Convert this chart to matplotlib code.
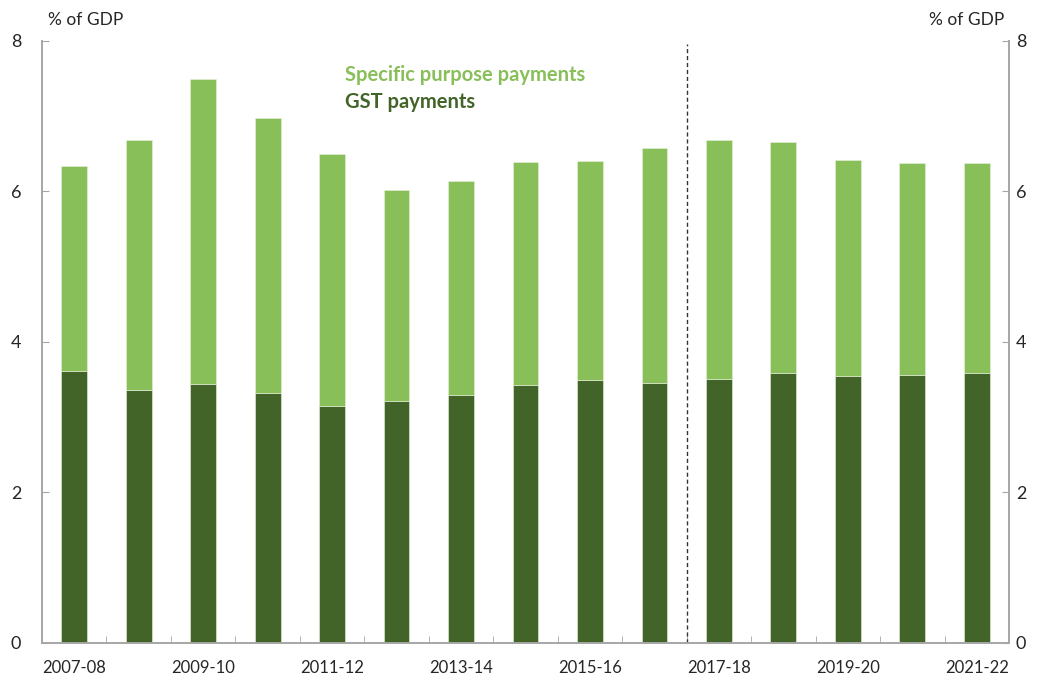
import matplotlib
matplotlib.use("Agg")
import matplotlib.pyplot as plt
import numpy as np

plt.rcParams['font.family'] = ['Lato', 'DejaVu Sans']

years = ["2007-08", "2008-09", "2009-10", "2010-11", "2011-12", "2012-13", "2013-14",
         "2014-15", "2015-16", "2016-17", "2017-18", "2018-19", "2019-20", "2020-21", "2021-22"]
gst = [3.61, 3.36, 3.44, 3.32, 3.15, 3.21, 3.29, 3.43, 3.49, 3.45, 3.51, 3.58, 3.55, 3.56, 3.58]
total = [6.34, 6.68, 7.49, 6.97, 6.49, 6.02, 6.14, 6.39, 6.41, 6.58, 6.68, 6.66, 6.42, 6.38, 6.38]
spp = [t - g for t, g in zip(total, gst)]
yticks = [0, 2, 4, 6, 8]

dark = "#436428"
light = "#88BF59"
spine_c = "#A6A6A6"
text_c = "#262626"

fig = plt.figure(figsize=(10.4, 6.81), dpi=100)
ax = fig.add_axes([0.0404, 0.056, 0.9298, 0.884])
x = np.arange(len(years))
w = 0.40
ax.bar(x, gst, width=w, color=dark, edgecolor="#e8f0df", linewidth=0.4)
ax.bar(x, spp, bottom=gst, width=w, color=light, edgecolor="#e8f0df", linewidth=0.4)

ax.set_xlim(-0.5, len(years) - 0.5)
ax.set_ylim(0, 8)
ax.axvline(9.5, color="#333333", lw=1.0, ls=(0, (3, 2)), ymax=0.995)

ax.set_xticks(x[::2])
ax.set_xticklabels(years[::2], fontsize=12, color=text_c)
ax.set_xticks(np.arange(0.5, len(years) - 1, 1), minor=True)
ax.tick_params(axis='x', which='major', length=0, pad=12)
ax.tick_params(axis='x', which='minor', direction='in', length=5, color=spine_c)

ax.set_yticks(yticks)
ax.tick_params(axis='y', direction='in', length=5, color=spine_c, labelsize=13,
               labelcolor=text_c, pad=15)

ax2 = ax.twinx()
ax2.set_ylim(0, 8)
ax2.set_yticks(yticks)
ax2.tick_params(axis='y', direction='in', length=5, color=spine_c, labelsize=13,
                labelcolor=text_c, pad=5)

for a in (ax, ax2):
    a.spines['top'].set_visible(False)
    for s in ('left', 'right', 'bottom'):
        a.spines[s].set_color(spine_c)
        a.spines[s].set_linewidth(1.2)

fig.text(48 / 1040, 1 - 20 / 681, "% of GDP", fontsize=12.5, color=text_c, va='center', ha='left')
fig.text(1004 / 1040, 1 - 20 / 681, "% of GDP", fontsize=12.5, color=text_c, va='center', ha='right')

ax.text(345 / 1040, 1 - 75 / 681, "Specific purpose payments", transform=fig.transFigure,
        fontsize=14.5, fontweight='bold', color=light, va='center', ha='left')
ax.text(345 / 1040, 1 - 102 / 681, "GST payments", transform=fig.transFigure,
        fontsize=14.5, fontweight='bold', color=dark, va='center', ha='left')

fig.savefig("out.png", dpi=100)
